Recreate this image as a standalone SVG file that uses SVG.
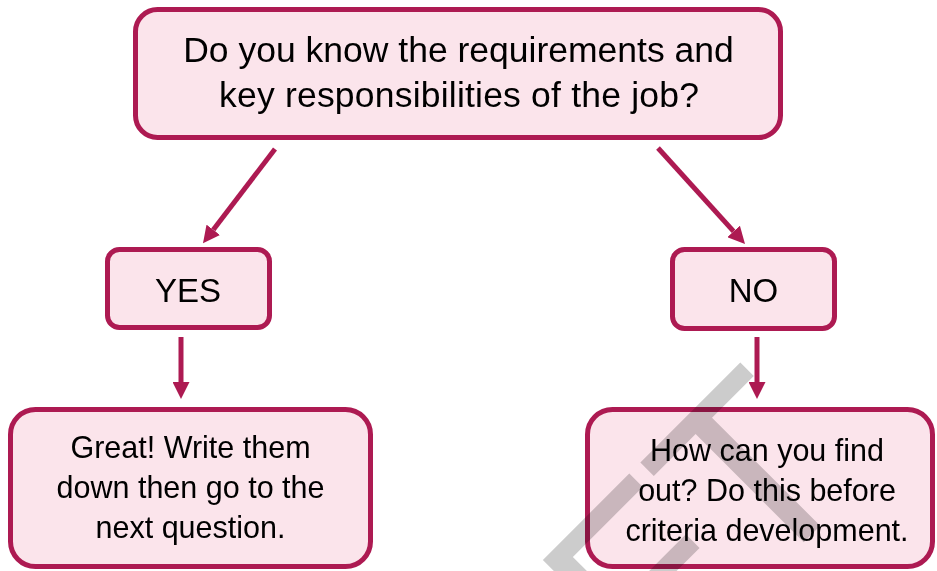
<svg xmlns="http://www.w3.org/2000/svg" width="937" height="571" viewBox="0 0 937 571">
  <defs>
    <marker id="head" viewBox="0 0 17 17" refX="0" refY="8.5" markerWidth="17" markerHeight="17" markerUnits="userSpaceOnUse" orient="auto">
      <path d="M0,0 L17,8.5 L0,17 Z" fill="#ad1a52"/>
    </marker>
  </defs>
  <style>
    .box { fill: #fbe4eb; stroke: #ad1a52; stroke-width: 5; }
    .lbl { font-family: "Liberation Sans", Arial, sans-serif; fill: #000; text-anchor: middle; }
    .q { font-size: 35.5px; }
    .yn { font-size: 33px; }
    .body { font-size: 30.5px; }
    .link { stroke: #ad1a52; stroke-width: 5; fill: none; marker-end: url(#head); }
    .wm { font-family: "Liberation Sans", Arial, sans-serif; font-size: 250px; fill: #7f7f7f; opacity: 0.4; text-anchor: end; mix-blend-mode: multiply; }
  </style>
  <rect width="937" height="571" fill="#ffffff"/>

  <!-- connectors -->
  <g id="connectors">
    <line class="link" x1="275" y1="149" x2="213.3" y2="229.8"/>
    <line class="link" x1="658" y1="148" x2="733.6" y2="231.4"/>
    <line class="link" x1="181" y1="337" x2="181" y2="382"/>
    <line class="link" x1="757" y1="337" x2="757" y2="382"/>
  </g>

  <!-- question -->
  <g id="question">
    <rect class="box" x="135.5" y="9.5" width="645" height="128" rx="22"/>
    <text class="lbl q" x="458.5" y="62">Do you know the requirements and</text>
    <text class="lbl q" x="459" y="107" textLength="480">key responsibilities of the job?</text>
  </g>

  <g id="yes">
    <rect class="box" x="107.5" y="249.5" width="162" height="78" rx="12"/>
    <text class="lbl yn" x="188" y="302">YES</text>
  </g>

  <g id="no">
    <rect class="box" x="672.5" y="249.5" width="162" height="79" rx="12"/>
    <text class="lbl yn" x="753.5" y="302">NO</text>
  </g>

  <g id="great">
    <rect class="box" x="10.5" y="409.5" width="360" height="157" rx="25"/>
    <text class="lbl body" x="190.5" y="458">Great! Write them</text>
    <text class="lbl body" x="190.5" y="498">down then go to the</text>
    <text class="lbl body" x="190.5" y="538">next question.</text>
  </g>

  <g id="findout">
    <rect class="box" x="587.5" y="409.5" width="345" height="157" rx="25"/>
    <text class="lbl body" x="767" y="461">How can you find</text>
    <text class="lbl body" x="767" y="501">out? Do this before</text>
    <text class="lbl body" x="767" y="541">criteria development.</text>
  </g>

  <!-- diagonal watermark -->
  <g id="watermark">
    <text class="wm" transform="translate(866,480) rotate(-45)" x="0" y="0">DRAFT</text>
  </g>
</svg>
